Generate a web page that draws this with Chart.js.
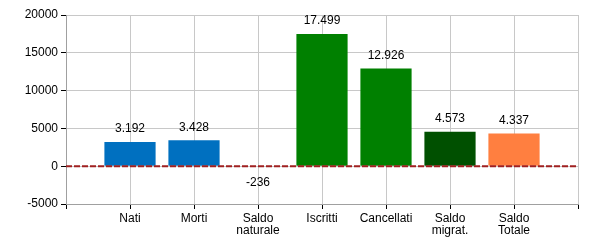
<!DOCTYPE html>
<html lang="it">
<head>
<meta charset="UTF-8">
<title>Bilancio demografico</title>
<style>
  body { margin: 0; background: #fff; }
  #box { width: 600px; height: 250px; }
</style>
</head>
<body>
<div id="box"><canvas id="myChart"></canvas></div>
<script src="https://cdn.jsdelivr.net/npm/chart.js"></script>
<script>
// categorie e valori
const categories = [['Nati'], ['Morti'], ['Saldo', 'naturale'], ['Iscritti'], ['Cancellati'], ['Saldo', 'migrat.'], ['Saldo', 'Totale']];
const values = [3192, 3428, -236, 17499, 12926, 4573, 4337];
// la barra del saldo naturale nel riferimento non si vede (coperta dalla linea dello zero)
const barColors = ['#0070c0', '#0070c0', 'rgba(0,0,0,0)', '#008000', '#008000', '#005000', '#ff7f40'];
const yTicks = [-5000, 0, 5000, 10000, 15000, 20000];

// una categoria vuota a ogni estremo, così le barre stanno sulle linee della griglia
const labels = [''].concat(categories, ['']);
const data = [null].concat(values, [null]);
const colors = ['#fff'].concat(barColors, ['#fff']);

function fmt(n) {
  let s = Math.abs(n).toString().replace(/\B(?=(\d{3})+(?!\d))/g, '.');
  return (n < 0 ? '-' : '') + s;
}

// etichette dei valori sopra (o sotto) le barre
const valueLabels = {
  id: 'valueLabels',
  afterDatasetsDraw(chart) {
    const ctx = chart.ctx;
    const meta = chart.getDatasetMeta(0);
    ctx.save();
    ctx.font = '12px "Liberation Sans", Arial, sans-serif';
    ctx.fillStyle = '#000';
    ctx.textAlign = 'center';
    meta.data.forEach((bar, i) => {
      const v = data[i];
      if (v == null) return;
      if (v >= 0) {
        ctx.textBaseline = 'bottom';
        ctx.fillText(fmt(v), bar.x, bar.y - 7);
      } else {
        ctx.textBaseline = 'top';
        ctx.fillText(fmt(v), bar.x, bar.y + 9);
      }
    });
    ctx.restore();
  }
};

// linea tratteggiata sullo zero
const zeroLine = {
  id: 'zeroLine',
  afterDatasetsDraw(chart) {
    const ctx = chart.ctx;
    const y = chart.scales.y.getPixelForValue(0);
    const area = chart.chartArea;
    ctx.save();
    ctx.strokeStyle = '#a02020';
    ctx.lineWidth = 2;
    ctx.setLineDash([6, 2]);
    ctx.beginPath();
    ctx.moveTo(area.left, y);
    ctx.lineTo(area.right, y);
    ctx.stroke();
    ctx.restore();
  }
};

new Chart(document.getElementById('myChart'), {
  type: 'bar',
  data: {
    labels: labels,
    datasets: [{
      data: data,
      backgroundColor: colors,
      borderWidth: 0,
      barPercentage: 0.8,
      categoryPercentage: 1
    }]
  },
  options: {
    responsive: true,
    maintainAspectRatio: false,
    animation: false,
    layout: { padding: { top: 15, right: 22, left: 0, bottom: 0 } },
    plugins: {
      legend: { display: false },
      tooltip: { enabled: false }
    },
    scales: {
      x: {
        offset: false,
        grid: { color: '#c8c8c8', tickColor: '#000', tickLength: 5, offset: false },
        border: { color: '#a0a0a0' },
        ticks: {
          color: '#000',
          font: { family: '"Liberation Sans", Arial, sans-serif', size: 12, lineHeight: 1.05 },
          maxRotation: 0,
          autoSkip: false,
          padding: 3
        },
        afterFit(scale) { scale.height = 46; }
      },
      y: {
        min: -5000,
        max: 20000,
        afterBuildTicks(scale) { scale.ticks = yTicks.map(v => ({ value: v })); },
        grid: { color: '#c8c8c8', tickColor: '#000', tickLength: 5 },
        border: { color: '#a0a0a0' },
        ticks: {
          color: '#000',
          font: { family: '"Liberation Sans", Arial, sans-serif', size: 12 },
          padding: 3,
          callback: v => String(v)
        },
        afterFit(scale) { scale.width = 66; }
      }
    }
  },
  plugins: [valueLabels, zeroLine]
});
</script>
</body>
</html>
